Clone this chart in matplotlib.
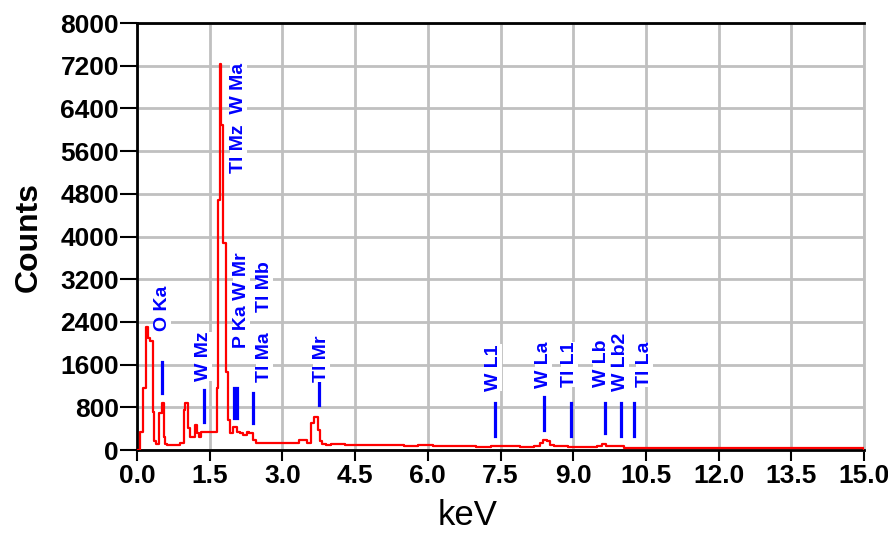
import matplotlib
matplotlib.use("Agg")
import matplotlib.pyplot as plt

plt.rcParams['font.family'] = ['Liberation Sans', 'DejaVu Sans']

# spectrum (bin start keV, counts)
energy = [0.00, 0.06, 0.12, 0.19, 0.23, 0.27, 0.32, 0.35, 0.40, 0.46, 0.51, 0.55, 0.58,
          0.62, 0.75, 0.88, 0.96, 0.99, 1.06, 1.09, 1.12, 1.19, 1.23, 1.28, 1.33, 1.40,
          1.50, 1.58, 1.65, 1.68, 1.71, 1.74, 1.77, 1.84, 1.88, 1.92, 1.99, 2.06, 2.12,
          2.19, 2.26, 2.32, 2.40, 2.45, 2.70, 3.00, 3.20, 3.35, 3.50, 3.60, 3.66, 3.73,
          3.77, 3.82, 3.90, 4.00, 4.30, 4.60, 4.90, 5.20, 5.50, 5.80, 6.10, 6.40, 6.70,
          7.00, 7.30, 7.60, 7.90, 8.20, 8.32, 8.38, 8.46, 8.52, 8.60, 8.90, 9.20, 9.50,
          9.60, 9.68, 9.80, 10.05, 10.50, 11.00, 11.50, 12.00, 12.50, 13.00, 13.50,
          14.00, 14.50, 15.00]
counts = [0, 340, 1160, 2310, 2100, 2050, 720, 160, 110, 690, 880, 250, 110,
          95, 95, 130, 750, 880, 410, 250, 250, 470, 310, 250, 340, 330,
          340, 340, 1160, 4680, 7240, 6090, 3870, 1470, 560, 320, 440, 340, 310,
          280, 340, 325, 190, 125, 125, 130, 125, 190, 130, 500, 625, 375,
          160, 110, 95, 110, 95, 100, 85, 90, 80, 85, 70, 75, 70,
          65, 75, 70, 65, 80, 140, 190, 170, 100, 70, 60, 65, 80,
          120, 80, 75, 45, 40, 40, 35, 40, 35, 30, 35,
          30, 30, 25]

# peak markers: label, text x, text bottom, marker x, marker y0, marker y1
labels = ['O Ka', 'W Mz', 'Tl Mz  W Ma', 'P Ka W Mr', 'Tl Ma', 'Tl Mb', 'Tl Mr',
          'W L1', 'W La', 'Tl L1', 'W Lb', 'W Lb2', 'Tl La']
label_x = [0.52, 1.38, 2.09, 2.16, 2.64, 2.64, 3.81, 7.35, 8.38, 8.93, 9.59, 9.98, 10.48]
label_y = [2230, 1290, 5190, 1910, 1280, 2590, 1280, 1110, 1160, 1180, 1180, 1110, 1180]
marker_x = [0.51, 1.38, 2.01, 2.06, 2.39, 3.76, 7.39, 8.40, 8.95, 9.66, 9.99, 10.26]
marker_y0 = [1060, 530, 600, 600, 505, 845, 260, 375, 260, 320, 260, 260]
marker_y1 = [1655, 1125, 1160, 1160, 1070, 1255, 880, 1000, 880, 880, 880, 880]

yticks = list(range(0, 8001, 800))
xticks = [i * 1.5 for i in range(11)]

fig = plt.figure(figsize=(8.88, 5.34), dpi=100)
ax = fig.add_axes([0.1543, 0.1573, 0.8187, 0.7996])

ax.plot(energy, counts, color='red', lw=1.6, drawstyle='steps-post', zorder=3)

for mx, a, b in zip(marker_x, marker_y0, marker_y1):
    ax.plot([mx, mx], [a, b], color='blue', lw=2.3, zorder=4)

for t, tx, ty in zip(labels, label_x, label_y):
    ax.text(tx, ty, t, rotation=90, ha='center', va='bottom', color='blue',
            fontsize=14, fontweight='bold', zorder=5,
            bbox=dict(facecolor='white', edgecolor='none', pad=0))

ax.set_xlim(0, 15)
ax.set_ylim(0, 8000)
ax.set_xticks(xticks)
ax.set_xticklabels(['%.1f' % v for v in xticks])
ax.set_yticks(yticks)
ax.grid(True, color='#c0c0c0', lw=2)
ax.set_axisbelow(True)

for s in ['left', 'bottom', 'top']:
    ax.spines[s].set_color('black')
    ax.spines[s].set_linewidth(2)
ax.spines['right'].set_color('#c0c0c0')
ax.spines['right'].set_linewidth(2)

ax.tick_params(axis='y', direction='out', length=12, width=1.5, pad=1, labelsize=19)
ax.tick_params(axis='x', direction='out', length=8, width=1.5, pad=2, labelsize=19)
for lab in ax.get_xticklabels() + ax.get_yticklabels():
    lab.set_fontweight('bold')

ax.set_ylabel('Counts', fontsize=23, fontweight='bold', labelpad=12)
ax.set_xlabel('keV', fontsize=25, x=0.454, labelpad=8)

fig.savefig('out.png', dpi=100)
